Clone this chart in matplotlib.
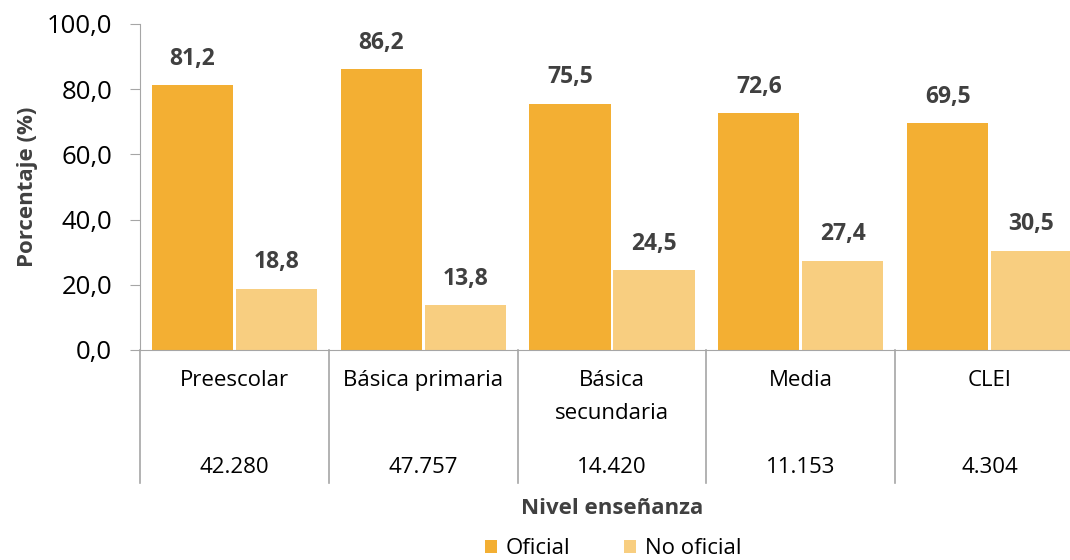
import matplotlib.pyplot as plt
from matplotlib.transforms import blended_transform_factory

plt.rcParams['font.family'] = ['Open Sans', 'DejaVu Sans']

# datos
niveles = ['Preescolar', 'Básica primaria', 'Básica\nsecundaria', 'Media', 'CLEI']
totales = ['42.280', '47.757', '14.420', '11.153', '4.304']
oficial = [81.2, 86.2, 75.5, 72.6, 69.5]
no_oficial = [18.8, 13.8, 24.5, 27.4, 30.5]
yticks = [0, 20, 40, 60, 80, 100]

c_of = '#F3AF33'
c_no = '#F8CE80'
gris = '#404040'
linea = '#A6A6A6'

fig = plt.figure(figsize=(10.7, 5.6), dpi=100)
ax = fig.add_axes([140 / 1070, 1 - 350 / 560, 944 / 1070, 326 / 560])

x = list(range(len(niveles)))
w = 0.43
b1 = ax.bar([i - 0.222 for i in x], oficial, w, color=c_of, label='Oficial')
b2 = ax.bar([i + 0.222 for i in x], no_oficial, w, color=c_no, label='No oficial')

for bars in (b1, b2):
    for r in bars:
        v = r.get_height()
        ax.annotate(f'{v:.1f}'.replace('.', ','), (r.get_x() + r.get_width() / 2, v),
                    xytext=(0, 19), textcoords='offset points', ha='center', va='center',
                    fontsize=16.5, fontweight='bold', color=gris)

ax.set_xlim(-0.5, len(niveles) - 0.5)
ax.set_ylim(0, 100)
ax.set_yticks(yticks)
ax.set_yticklabels([f'{t:.1f}'.replace('.', ',') for t in yticks], fontsize=18.5, color='black')
ax.tick_params(axis='y', length=7, color=linea, pad=13)
ax.set_xticks([])

for s in ('top', 'right'):
    ax.spines[s].set_visible(False)
ax.spines['left'].set_color(linea)
ax.spines['bottom'].set_color(linea)
ax.spines['left'].set_bounds(0, 100)

# tabla bajo el eje
tr = blended_transform_factory(ax.transData, ax.transAxes)
for i in range(len(niveles) + 1):
    ax.plot([i - 0.5, i - 0.5], [0, -0.408], transform=tr, color=linea, lw=1.2, clip_on=False)
for i, (n, t) in enumerate(zip(niveles, totales)):
    ax.text(i, -0.06, n, transform=tr, ha='center', va='top', fontsize=16, linespacing=1.8)
    ax.text(i, -0.36, t, transform=tr, ha='center', va='center', fontsize=16)

ax.set_ylabel('Porcentaje (%)', fontsize=16, fontweight='bold', color=gris, labelpad=6)
fig.text(612 / 1070, 1 - 508 / 560, 'Nivel enseñanza', ha='center', va='center',
         fontsize=16, fontweight='bold', color=gris)

fig.legend(handles=[b1, b2], loc='center', bbox_to_anchor=(613 / 1070, 1 - 549 / 560),
           ncol=2, frameon=False, fontsize=16, handlelength=0.55, handleheight=0.55,
           columnspacing=2.4, handletextpad=0.4)

fig.savefig('out.png', dpi=100)
